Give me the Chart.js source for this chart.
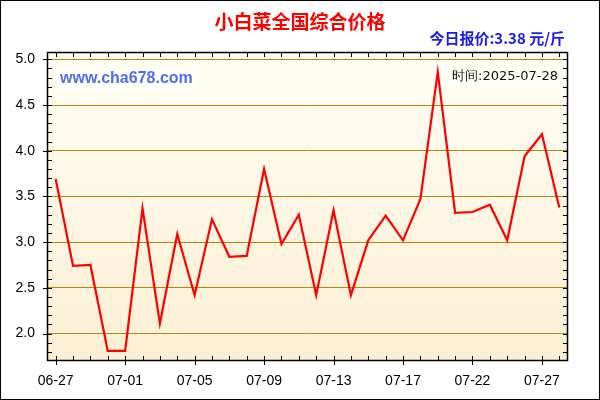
<!DOCTYPE html>
<html>
<head>
<meta charset="utf-8">
<script src="https://cdn.jsdelivr.net/npm/chart.js@4"></script>
<style>
  body { margin: 0; background: #fff; }
  canvas { display: block; }
</style>
</head>
<body>
<canvas id="priceChart" width="600" height="400"></canvas>
<script>
const dates = [
  '06-27', '06-28', '06-29', '06-30', '07-01', '07-02', '07-03', '07-04', '07-05', '07-06',
  '07-07', '07-08', '07-09', '07-10', '07-11', '07-12', '07-13', '07-14', '07-15', '07-16',
  '07-17', '07-18', '07-19', '07-21', '07-22', '07-23', '07-24', '07-26', '07-27', '07-28'
];
const prices = [
  3.69, 2.74, 2.75, 1.81, 1.81, 3.37, 2.11, 3.09, 2.42, 3.25,
  2.84, 2.85, 3.80, 2.98, 3.30, 2.42, 3.35, 2.42, 3.02, 3.29,
  3.02, 3.47, 4.86, 3.32, 3.33, 3.41, 3.02, 3.94, 4.18, 3.38
];
const xTickLabels = ['06-27', '07-01', '07-05', '07-09', '07-13', '07-17', '07-22', '07-27'];
const yTickValues = [2.0, 2.5, 3.0, 3.5, 4.0, 4.5, 5.0];

const titleText = '小白菜全国综合价格';
const todayText = '今日报价:3.38 元/斤';
const siteText = 'www.cha678.com';
const dateText = '时间:2025-07-28';

function line(ctx, x1, y1, x2, y2) {
  ctx.beginPath();
  ctx.moveTo(x1, y1);
  ctx.lineTo(x2, y2);
  ctx.stroke();
}

// background, texts, tick marks and frame
const decor = {
  id: 'decor',
  beforeDraw(chart) {
    const { ctx, chartArea: a } = chart;
    ctx.save();
    ctx.fillStyle = '#fff';
    ctx.fillRect(0, 0, chart.width, chart.height);
    const g = ctx.createLinearGradient(0, a.top, 0, a.bottom);
    g.addColorStop(0, '#fffef4');
    g.addColorStop(1, '#fcefd4');
    ctx.fillStyle = g;
    ctx.fillRect(a.left, a.top, a.width, a.height);
    ctx.restore();
  },
  beforeDatasetsDraw(chart) {
    const { ctx } = chart;
    ctx.save();
    ctx.textBaseline = 'middle';

    ctx.font = 'bold 16px "Liberation Sans", Arial, sans-serif';
    const w1 = ctx.measureText(siteText).width;
    ctx.fillStyle = 'rgba(255,255,255,0.7)';
    ctx.fillRect(57, 69, w1 + 6, 21);
    ctx.fillStyle = '#4d6ef2';
    ctx.textAlign = 'left';
    ctx.fillText(siteText, 60, 79);

    ctx.font = '13px "DejaVu Sans", sans-serif';
    const w2 = ctx.measureText(dateText).width;
    ctx.fillStyle = 'rgba(255,255,255,0.7)';
    ctx.fillRect(558 - w2 - 3, 68, w2 + 5, 19);
    ctx.fillStyle = '#111';
    ctx.textAlign = 'right';
    ctx.fillText(dateText, 558, 77);
    ctx.restore();
  },
  afterDraw(chart) {
    const { ctx, chartArea: a } = chart;
    const x = chart.scales.x;
    const y = chart.scales.y;
    ctx.save();

    ctx.textBaseline = 'middle';
    ctx.textAlign = 'center';
    ctx.fillStyle = '#ff0000';
    ctx.font = 'bold 19px "Noto Sans CJK SC", sans-serif';
    ctx.fillText(titleText, 300, 22);

    ctx.textAlign = 'right';
    ctx.fillStyle = '#1a1aee';
    ctx.font = 'bold 15px "Noto Sans CJK SC", sans-serif';
    ctx.fillText(todayText, 565, 38);

    ctx.strokeStyle = '#000';
    ctx.lineWidth = 1;
    dates.forEach((d, i) => {
      const px = Math.round(x.getPixelForValue(i)) + 0.5;
      const long = xTickLabels.includes(d);
      line(ctx, px, a.bottom - 5, px, a.bottom + (long ? 4 : 0));
      line(ctx, px, a.top, px, a.top + 5);
    });
    for (let k = 18; k <= 50; k++) {
      const py = Math.round(y.getPixelForValue(k / 10)) + 0.5;
      const major = k % 5 === 0;
      line(ctx, a.left - (major ? 4 : 0), py, a.left + 5, py);
      line(ctx, a.right - 5, py, a.right, py);
    }

    ctx.lineWidth = 1.5;
    ctx.strokeRect(Math.round(a.left) + 0.5, Math.round(a.top) + 0.5,
      Math.round(a.width) - 1, Math.round(a.height) - 1);

    ctx.lineWidth = 1;
    ctx.strokeRect(0.5, 0.5, chart.width - 1, chart.height - 1);
    ctx.restore();
  }
};

const ctx = document.getElementById('priceChart').getContext('2d');
new Chart(ctx, {
  type: 'line',
  data: {
    labels: dates,
    datasets: [
      {
        label: '价格',
        data: prices,
        borderColor: '#ff0000',
        borderWidth: 2.2,
        pointRadius: 0,
        tension: 0,
        fill: false
      }
    ]
  },
  options: {
    responsive: false,
    animation: false,
    devicePixelRatio: 1,
    layout: {
      padding: { top: 52, right: 32, bottom: 10, left: 0 }
    },
    scales: {
      x: {
        type: 'category',
        offset: true,
        afterFit: function (scale) {
          scale.height = 29;
        },
        grid: { display: false, drawTicks: false },
        border: { display: false },
        ticks: {
          autoSkip: false,
          maxRotation: 0,
          padding: 12,
          color: '#000',
          font: { size: 14, family: '"Liberation Sans", Arial, sans-serif' },
          callback: function (value, index) {
            const d = dates[index];
            return xTickLabels.includes(d) ? d : '';
          }
        }
      },
      y: {
        min: 1.7,
        max: 5.08,
        afterBuildTicks: function (scale) {
          scale.ticks = yTickValues.map(v => ({ value: v }));
        },
        afterFit: function (scale) {
          scale.width = 47;
        },
        grid: { color: '#b8860b', lineWidth: 1, drawTicks: false },
        border: { display: false },
        ticks: {
          padding: 12,
          color: '#000',
          font: { size: 14, family: '"Liberation Sans", Arial, sans-serif' },
          callback: function (value) {
            return Number(value).toFixed(1);
          }
        }
      }
    },
    plugins: {
      legend: { display: false },
      title: { display: false },
      tooltip: { enabled: false }
    }
  },
  plugins: [decor]
});
</script>
</body>
</html>
